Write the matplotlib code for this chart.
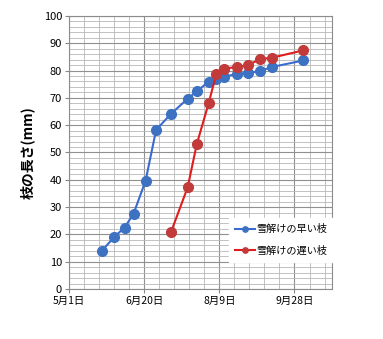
import matplotlib
matplotlib.use("Agg")
import matplotlib.pyplot as plt
from matplotlib.ticker import MultipleLocator

# 日本語フォント
plt.rcParams["font.family"] = ["Noto Sans CJK JP", "DejaVu Sans"]
plt.rcParams["axes.unicode_minus"] = False

# --------------------------
# データ（5月1日からの日数, 枝の長さ mm）
# --------------------------
early_days = [22, 30, 37, 43, 51, 58, 68, 79, 85, 93, 98, 103, 112, 119, 127, 135, 156]
early_len = [14.0, 19.0, 22.5, 27.6, 39.7, 58.3, 64.2, 69.7, 72.4, 75.9, 76.8, 77.8, 78.7, 79.1, 79.8, 81.3, 83.7]

late_days = [68, 79, 85, 93, 98, 103, 112, 119, 127, 135, 156]
late_len = [21.0, 37.3, 53.0, 68.2, 78.8, 80.6, 81.4, 81.9, 84.2, 84.7, 87.4]

x_tick_days = [0, 50, 100, 150]
x_tick_labels = ["5月1日", "6月20日", "8月9日", "9月28日"]

series_names = ["雪解けの早い枝", "雪解けの遅い枝"]

# --------------------------
# 描画
# --------------------------
fig = plt.figure(figsize=(3.83, 3.39), dpi=100)
ax = fig.add_axes([0.180, 0.1475, 0.687, 0.8055])

ax.plot(early_days, early_len, color="#3a6bd0", lw=1.5, marker="o", ms=7,
        mfc="#3d72c2", mec="#3d72c2", label=series_names[0], zorder=3)
ax.plot(late_days, late_len, color="#e01c1c", lw=1.5, marker="o", ms=7,
        mfc="#c23a3a", mec="#c23a3a", label=series_names[1], zorder=4)

ax.set_xlim(0, 175)
ax.set_ylim(0, 100)
ax.set_xticks(x_tick_days)
ax.set_xticklabels(x_tick_labels, fontsize=7.5)
ax.xaxis.set_minor_locator(MultipleLocator(10))
ax.yaxis.set_major_locator(MultipleLocator(10))
ax.yaxis.set_minor_locator(MultipleLocator(2))
ax.tick_params(axis="y", labelsize=8)
ax.tick_params(which="major", length=3, color="#888888", pad=2)
ax.tick_params(which="minor", length=0)

# グリッド
ax.grid(which="major", color="#909090", lw=0.8)
ax.grid(which="minor", color="#b8b8b8", lw=0.6)
ax.set_axisbelow(True)
for sp in ax.spines.values():
    sp.set_color("#8c8c8c")
    sp.set_linewidth(0.8)

ax.set_ylabel("枝の長さ(mm)", fontsize=10, fontweight="bold", labelpad=6)

leg = ax.legend(loc="lower right", bbox_to_anchor=(1.005, 0.1), fontsize=7.3,
                frameon=True, fancybox=False, edgecolor="white", framealpha=1,
                markerscale=0.55, handlelength=2.0, handletextpad=0.1,
                labelspacing=1.1, borderpad=0.6, borderaxespad=0)

plt.savefig("out.png", dpi=100)
